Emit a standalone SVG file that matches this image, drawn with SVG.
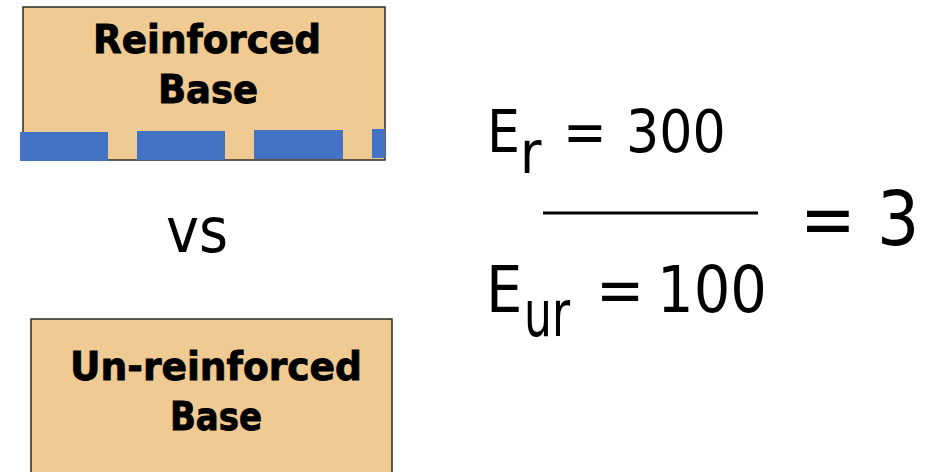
<svg xmlns="http://www.w3.org/2000/svg" width="930" height="472" viewBox="0 0 930 472">
<style>
.box{fill:#F0CA93;stroke:#2b2b2b;stroke-width:1.5}
.geo{fill:#4472C4}
.lbl{font-family:"DejaVu Sans","Verdana",sans-serif;font-weight:bold;font-size:39px;fill:#000;stroke:#000;stroke-width:0.9;text-anchor:middle}
.eq{font-family:"DejaVu Sans Condensed","DejaVu Sans",sans-serif;fill:#000}
</style>
<rect width="930" height="472" fill="#fff"/>
<g id="reinforced">
<rect class="box" x="23" y="7" width="362" height="153"/>
<text class="lbl" x="207" y="53" textLength="228" lengthAdjust="spacingAndGlyphs">Reinforced</text>
<text class="lbl" x="208" y="103" textLength="100" lengthAdjust="spacingAndGlyphs">Base</text>
<rect class="geo" x="20" y="132" width="88" height="29"/>
<rect class="geo" x="137" y="131" width="88" height="29"/>
<rect class="geo" x="254" y="130" width="89" height="29"/>
<rect class="geo" x="372" y="129" width="13" height="29"/>
</g>
<g id="vs">
<text class="eq" x="166" y="252" font-size="62">vs</text>
</g>
<g id="unreinforced">
<rect class="box" x="31" y="319" width="361" height="170"/>
<text class="lbl" x="216" y="380" textLength="292" lengthAdjust="spacingAndGlyphs">Un-reinforced</text>
<text class="lbl" x="216" y="430" textLength="92" lengthAdjust="spacingAndGlyphs">Base</text>
</g>
<g id="equation">
<text class="eq" font-size="58"><tspan x="487" y="152">E</tspan><tspan x="520" y="173">r</tspan><tspan x="563" y="152">=</tspan><tspan x="626" y="152">300</tspan></text>
<line x1="543" y1="213" x2="758" y2="213" stroke="#000" stroke-width="3"/>
<text class="eq" font-size="64"><tspan x="486" y="312">E</tspan></text>
<text class="eq" font-size="64" x="524" y="336" textLength="46" lengthAdjust="spacingAndGlyphs">ur</text>
<text class="eq" font-size="64"><tspan x="596" y="312">=</tspan><tspan x="657" y="312">100</tspan></text>
<text class="eq" font-size="74"><tspan x="800" y="245">= 3</tspan></text>
</g>
</svg>
